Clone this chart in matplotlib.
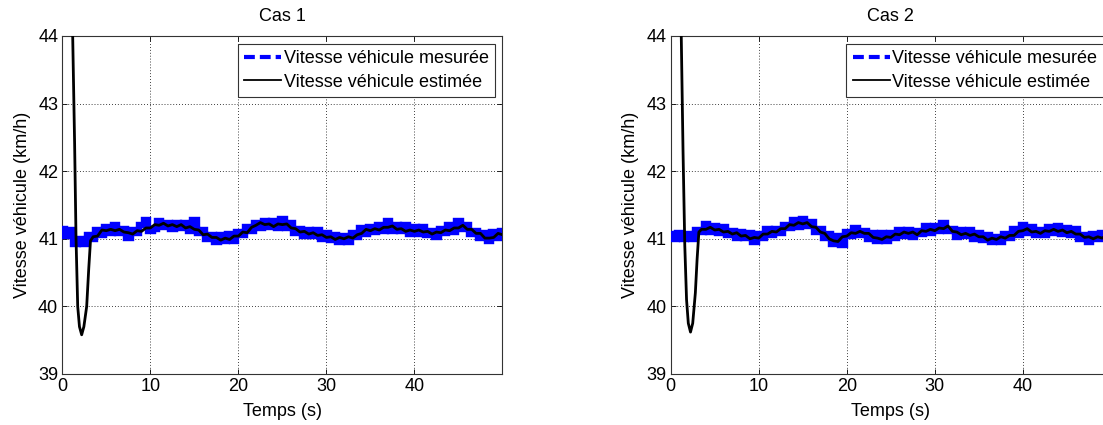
import numpy as np
import matplotlib
matplotlib.use("Agg")
import matplotlib.pyplot as plt
from matplotlib.lines import Line2D

plt.rcParams['font.family'] = ['Liberation Sans', 'DejaVu Sans']

# ---------------- data ----------------
titles = ["Cas 1", "Cas 2"]
legend_labels = ["Vitesse véhicule mesurée", "Vitesse véhicule estimée"]
x_label = "Temps (s)"
y_label = "Vitesse véhicule (km/h)"
x_ticks = [0, 10, 20, 30, 40]
y_ticks = [39, 40, 41, 42, 43, 44]

# measured speed, sampled every 0.5 s from 0 to 50 s
t_meas = np.arange(0, 50.01, 0.5)
meas_cas1 = [
    41.15, 41.04, 41.13, 40.93, 41.00, 40.92, 41.05, 40.99, 41.13, 41.06,
    41.18, 41.09, 41.20, 41.08, 41.14, 41.01, 41.13, 41.08, 41.20, 41.28,
    41.12, 41.15, 41.27, 41.17, 41.24, 41.14, 41.24, 41.16, 41.24, 41.12,
    41.28, 41.08, 41.13, 41.00, 41.06, 40.95, 41.05, 40.97, 41.07, 40.97,
    41.10, 41.05, 41.17, 41.11, 41.24, 41.16, 41.27, 41.18, 41.27, 41.16,
    41.29, 41.16, 41.23, 41.09, 41.15, 41.04, 41.13, 41.04, 41.13, 41.00,
    41.09, 40.98, 41.06, 40.95, 41.04, 40.96, 41.08, 41.02, 41.16, 41.07,
    41.18, 41.10, 41.21, 41.11, 41.26, 41.11, 41.20, 41.11, 41.20, 41.07,
    41.17, 41.07, 41.17, 41.05, 41.12, 41.03, 41.15, 41.08, 41.20, 41.10,
    41.26, 41.15, 41.21, 41.07, 41.12, 41.01, 41.08, 40.97, 41.10, 41.01,
    41.12]
meas_cas2 = [
    41.07, 40.99, 41.09, 40.99, 41.07, 40.99, 41.13, 41.10, 41.22, 41.10,
    41.19, 41.09, 41.18, 41.05, 41.11, 41.01, 41.10, 41.01, 41.09, 40.96,
    41.07, 41.01, 41.14, 41.05, 41.15, 41.08, 41.21, 41.16, 41.28, 41.18,
    41.29, 41.19, 41.25, 41.10, 41.14, 41.01, 41.07, 40.93, 41.04, 40.91,
    41.10, 41.04, 41.16, 41.05, 41.12, 41.00, 41.08, 40.97, 41.08, 40.97,
    41.08, 41.01, 41.13, 41.04, 41.13, 41.03, 41.12, 41.07, 41.19, 41.08,
    41.19, 41.11, 41.24, 41.12, 41.15, 41.03, 41.13, 41.04, 41.13, 41.00,
    41.09, 40.98, 41.06, 40.95, 41.03, 40.95, 41.07, 41.01, 41.14, 41.05,
    41.21, 41.09, 41.17, 41.05, 41.13, 41.05, 41.17, 41.09, 41.19, 41.07,
    41.16, 41.06, 41.14, 41.00, 41.06, 40.96, 41.07, 40.99, 41.09, 40.98,
    41.08]

# estimated speed: initial transient, then every 0.5 s from 3.5 to 50 s
t_est_start_cas1 = [0.0, 0.6, 1.0, 1.18, 1.4, 1.56, 1.75, 1.95, 2.2, 2.45, 2.77, 3.0, 3.2]
est_start_cas1 = [75.0, 55.0, 47.0, 44.0, 42.4, 41.0, 40.0, 39.7, 39.58, 39.7, 40.0, 40.55, 40.97]
t_est_start_cas2 = [0.0, 0.6, 1.0, 1.2, 1.4, 1.6, 1.8, 2.0, 2.25, 2.5, 2.8, 3.0, 3.2]
est_start_cas2 = [75.0, 55.0, 47.0, 44.0, 42.3, 40.9, 40.1, 39.75, 39.62, 39.75, 40.2, 40.7, 41.1]
t_est_tail = np.arange(3.5, 50.01, 0.5)
est_tail_cas1 = [
    41.03, 41.04, 41.13, 41.12, 41.14, 41.12, 41.14, 41.10, 41.09, 41.07,
    41.12, 41.11, 41.16, 41.16, 41.21, 41.20, 41.23, 41.19, 41.21, 41.18,
    41.21, 41.16, 41.18, 41.14, 41.13, 41.06, 41.07, 41.02, 41.02, 40.98,
    41.01, 40.99, 41.04, 41.04, 41.10, 41.09, 41.17, 41.20, 41.24, 41.21,
    41.22, 41.18, 41.22, 41.21, 41.22, 41.16, 41.15, 41.10, 41.11, 41.07,
    41.09, 41.05, 41.06, 41.02, 41.03, 40.99, 41.02, 41.00, 41.03, 41.01,
    41.06, 41.08, 41.14, 41.12, 41.15, 41.13, 41.17, 41.17, 41.19, 41.14,
    41.15, 41.11, 41.13, 41.11, 41.13, 41.10, 41.11, 41.07, 41.10, 41.09,
    41.13, 41.12, 41.16, 41.16, 41.20, 41.14, 41.14, 41.08, 41.08, 41.01,
    41.01, 41.02, 41.08, 41.06]
est_tail_cas2 = [
    41.14, 41.14, 41.17, 41.13, 41.14, 41.10, 41.11, 41.07, 41.09, 41.04,
    41.05, 41.00, 41.02, 41.01, 41.07, 41.07, 41.11, 41.10, 41.15, 41.15,
    41.21, 41.20, 41.24, 41.22, 41.24, 41.18, 41.17, 41.10, 41.08, 41.00,
    40.97, 40.96, 41.03, 41.04, 41.09, 41.08, 41.11, 41.08, 41.08, 41.02,
    41.01, 40.99, 41.03, 41.02, 41.07, 41.06, 41.10, 41.08, 41.10, 41.06,
    41.12, 41.11, 41.14, 41.12, 41.16, 41.15, 41.19, 41.11, 41.10, 41.06,
    41.08, 41.05, 41.07, 41.03, 41.03, 40.98, 41.01, 40.99, 41.03, 41.01,
    41.05, 41.05, 41.11, 41.12, 41.15, 41.10, 41.11, 41.08, 41.12, 41.11,
    41.14, 41.11, 41.13, 41.09, 41.11, 41.07, 41.07, 41.02, 41.03, 41.00,
    41.03, 41.01, 41.05, 41.02]

cases = [
    (meas_cas1, t_est_start_cas1, est_start_cas1, est_tail_cas1),
    (meas_cas2, t_est_start_cas2, est_start_cas2, est_tail_cas2),
]

# ---------------- figure ----------------
W, H = 1103, 425
fig = plt.figure(figsize=(W / 100, H / 100), dpi=100)
ax_left_px = [62.3, 670.7]
ax_w_px, ax_top_px, ax_bot_px = 440, 36, 374

FS = 13
for i, (meas, ts, es, et) in enumerate(cases):
    ax = fig.add_axes([ax_left_px[i] / W, (H - ax_bot_px) / H,
                       ax_w_px / W, (ax_bot_px - ax_top_px) / H])
    t_est = np.concatenate([ts, t_est_tail])
    est = np.concatenate([es, et])
    ax.plot(t_meas, meas, color=(0, 0, 1), lw=4.6, drawstyle='steps-mid',
            solid_joinstyle='miter', zorder=3)
    ax.plot(t_est, est, color='k', lw=2.0, zorder=4)
    ax.set_xlim(0, 49.98)
    ax.set_ylim(39, 44)
    ax.set_xticks(x_ticks)
    ax.set_yticks(y_ticks)
    ax.grid(True, color='k', linestyle=(0, (1, 2.5)), linewidth=0.6)
    ax.tick_params(direction='in', top=True, right=True, length=3.5, width=0.6,
                   labelsize=FS, pad=3, colors='k')
    for s in ax.spines.values():
        s.set_linewidth(0.8)
        s.set_color('#333333')
    ax.set_title(titles[i], fontsize=FS, pad=11)
    ax.set_xlabel(x_label, fontsize=FS, labelpad=6)
    ax.set_ylabel(y_label, fontsize=FS, labelpad=5)
    handles = [Line2D([], [], color=(0, 0, 1), lw=3, linestyle=(0, (2.6, 1.2))),
               Line2D([], [], color='k', lw=1.3)]
    leg = ax.legend(handles, legend_labels, loc='upper right',
                    bbox_to_anchor=(1 - 7 / ax_w_px, 1 - 8 / (ax_bot_px - ax_top_px)),
                    borderaxespad=0, fontsize=FS, fancybox=False, framealpha=1,
                    edgecolor='#333333', handlelength=2.05, handletextpad=0.15,
                    labelspacing=0.35, borderpad=0.35)
    leg.get_frame().set_linewidth(0.8)

fig.savefig("out.png", dpi=100)
